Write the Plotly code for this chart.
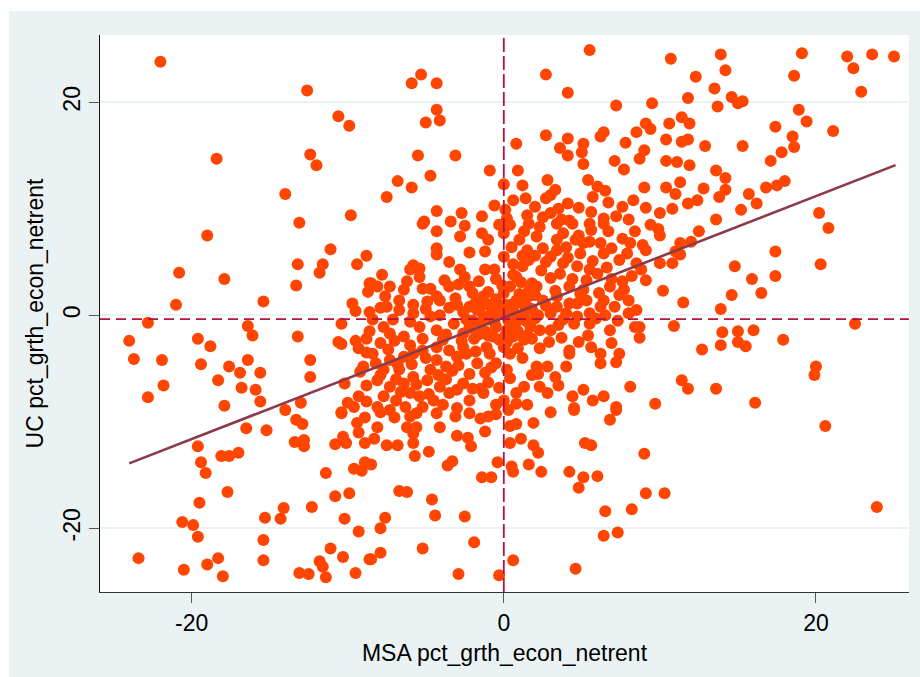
import plotly.graph_objects as go

pts = [
# upper-left
(-22.0,23.8),(-12.6,21.1),(-10.6,18.7),(-9.9,17.8),(-18.4,14.7),(-12.4,15.1),(-12.0,14.1),(-14.0,11.4),(-9.8,9.4),(-13.1,8.7),
# upper-middle
(5.5,24.9),(-5.3,22.6),(-5.9,21.8),(-4.3,21.8),(2.7,22.6),(4.1,20.9),(7.2,19.7),(-4.3,19.3),(-5.0,18.1),(-4.1,18.3),
(2.7,16.9),(4.1,16.6),(6.4,17.2),(6.2,16.8),(8.5,17.2),(0.8,16.1),(5.1,16.1),(3.6,15.7),(5.0,15.3),(4.1,15.0),
(7.8,16.2),(-5.5,15.0),(-3.1,15.0),(5.1,14.2),(7.1,14.5),(7.7,13.7),(8.7,14.7),(-0.9,13.6),(0.9,13.6),(-4.7,13.1),
(-6.8,12.6),(-5.9,12.0),(-7.5,11.1),(0.0,12.3),(1.2,12.2),(2.8,12.7),(5.4,12.7),(3.3,11.8),(3.0,11.3),(2.7,11.0),
(6.0,12.1),(5.7,11.1),(6.5,11.7),(6.7,10.6),(8.3,10.8),(4.1,10.5),(-4.3,9.8),(-2.7,9.6),(-1.4,9.3),(0.1,9.9),
(0.2,9.1),(-5.1,8.8),(2.0,10.2),(1.5,9.4),(3.0,9.6),(3.7,9.0),(4.2,8.9),(6.4,9.1),(7.2,9.3),(5.5,8.6),
# upper-right
(10.7,24.1),(13.9,24.5),(14.2,23.0),(19.1,24.6),(22.0,24.3),(23.6,24.5),(25.0,24.3),(22.4,23.2),(18.6,22.5),(22.9,21.0),
(12.3,22.4),(13.5,21.3),(11.8,20.4),(14.6,20.5),(15.0,19.9),(15.3,20.1),(13.7,19.6),(9.5,19.9),(18.9,19.3),(19.4,18.2),
(21.1,17.3),(17.4,17.7),(18.5,16.8),(18.6,15.8),(17.8,15.3),(17.1,14.5),(15.3,15.9),(12.9,15.9),(11.4,18.6),(10.6,18.0),
(11.9,18.0),(9.1,18.0),(9.4,17.5),(10.4,16.5),(11.4,16.3),(11.8,16.5),(9.0,15.5),(10.4,14.5),(11.1,14.4),(11.9,14.1),
(13.6,13.6),(14.2,12.9),(14.2,11.8),(13.8,11.1),(12.8,11.9),(11.3,12.5),(10.4,12.0),(11.0,11.4),(9.0,12.0),(9.1,10.1),
(10.0,9.6),(10.8,10.0),(11.8,10.5),(12.4,10.8),(13.6,9.0),(15.2,9.9),(15.7,11.4),(16.2,10.5),(16.8,12.0),(17.5,12.2),
(18.0,12.6),(20.2,9.6),
# middle-right
(20.8,8.2),(12.5,7.9),(12.0,6.9),(11.3,6.8),(11.0,6.0),(11.3,5.7),(10.8,4.9),(10.0,4.9),(10.0,7.5),(9.9,8.1),
(9.4,8.5),(8.9,6.6),(9.1,6.1),(8.8,4.3),(9.1,3.3),(10.2,2.3),(11.5,1.2),(17.4,6.0),(17.4,3.7),(20.3,4.8),
(14.8,4.6),(15.9,3.4),(16.5,2.1),(14.6,1.9),(13.9,0.6),(10.9,-1.0),(8.7,-1.1),(8.7,-2.1),(14.0,-1.6),(15.0,-1.5),
(16.0,-1.4),(15.0,-2.5),(13.9,-2.8),(15.5,-2.9),(17.9,-2.3),(12.7,-3.2),(22.5,-0.8),(20.0,-4.8),(19.9,-5.6),(11.4,-6.1),
(11.8,-6.9),(13.6,-6.9),(9.7,-8.3),(16.1,-8.2),
# lower-right
(20.6,-10.4),(9.0,-13.0),(9.1,-16.7),(10.3,-16.7),(23.9,-18.0),
# middle-left
(-19.0,7.5),(-11.1,6.2),(-8.8,5.6),(-20.8,4.0),(-17.9,3.4),(-13.2,4.8),(-11.6,4.8),(-11.8,4.0),(-9.4,4.8),(-13.3,2.8),
(-15.4,1.3),(-21.0,1.0),(-8.6,3.0),(-8.7,2.2),(-9.7,1.1),(-9.5,0.4),(-8.6,0.3),(-22.8,-0.7),(-16.4,-1.0),(-16.1,-1.9),
(-10.4,-0.8),(-13.2,-2.0),(-24.0,-2.4),(-19.6,-2.2),(-18.8,-2.9),(-10.6,-2.5),(-10.4,-2.7),(-9.5,-2.4),(-8.8,-2.2),(-9.3,-3.1),
(-8.8,-3.5),(-23.7,-4.1),(-21.9,-4.2),(-19.4,-4.6),(-16.4,-4.2),(-12.4,-4.2),(-17.6,-4.8),(-16.9,-5.4),(-15.6,-5.4),(-12.4,-5.8),
(-18.3,-6.1),(-21.8,-6.6),(-16.8,-6.8),(-15.9,-7.0),(-9.0,-4.8),(-9.2,-5.3),(-10.2,-6.4),(-8.8,-6.6),(-22.8,-7.7),(-15.6,-8.1),
(-13.0,-8.2),(-17.9,-8.5),(-14.0,-8.9),(-10.0,-8.2),(-9.3,-7.6),(-9.6,-8.6),(-10.4,-9.1),(-8.8,-8.1),
# lower-left
(-16.5,-10.6),(-15.2,-10.8),(-19.6,-12.3),(-18.1,-13.2),(-17.6,-13.2),(-17.0,-12.9),(-19.4,-13.8),(-19.1,-14.8),(-17.7,-16.6),(-19.5,-17.6),
(-20.6,-19.4),(-19.9,-19.7),(-19.6,-20.8),(-23.4,-22.8),(-20.5,-23.9),(-19.0,-23.4),(-18.3,-22.8),(-18.0,-24.5),(-15.3,-19.0),(-15.4,-21.1),
(-15.4,-23.0),(-14.1,-18.1),(-14.3,-19.1),(-12.3,-18.0),(-13.4,-11.9),(-12.8,-12.3),(-12.8,-11.7),(-13.3,-9.8),(-12.9,-10.2),(-11.4,-14.8),
(-10.8,-17.0),(-9.9,-16.7),(-10.2,-19.1),(-9.3,-20.3),(-11.1,-21.9),(-10.3,-22.7),(-11.8,-23.1),(-11.6,-23.6),(-13.1,-24.2),(-12.5,-24.3),
(-11.4,-24.6),(-9.5,-24.2),(-8.6,-22.9),(-10.8,-12.1),(-10.3,-11.4),(-10.1,-12.0),(-10.4,-9.2),(-9.4,-10.1),(-9.3,-11.0),(-8.9,-12.0),
(-9.6,-14.4),(-9.1,-14.6),(-8.9,-13.8),
# lower-middle
(6.8,-9.8),(7.2,-8.9),(3.0,-9.1),(4.5,-8.9),(1.9,-10.1),(0.4,-10.4),(0.8,-10.2),(1.1,-11.6),(0.4,-12.0),(1.9,-12.2),
(2.2,-12.9),(1.6,-14.0),(0.5,-14.2),(0.6,-14.7),(2.4,-14.7),(-0.4,-13.8),(5.2,-12.0),(5.6,-12.2),(4.2,-14.7),(5.1,-15.2),
(6.0,-15.1),(4.8,-16.2),(6.5,-18.4),(8.2,-18.2),(6.4,-20.7),(7.3,-20.4),(4.6,-23.8),(0.6,-23.0),(-0.3,-24.4),(-2.9,-24.3),
(-1.9,-21.3),(-5.2,-21.9),(-7.9,-22.3),(-8.5,-22.9),(-7.9,-20.0),(-7.6,-19.0),(-4.4,-18.8),(-2.5,-18.9),(-4.6,-17.3),(-6.7,-16.5),
(-6.2,-16.6),(-1.4,-15.2),(-0.8,-15.2),(-3.6,-14.1),(-3.3,-13.7),(-4.8,-12.8),(-5.7,-13.2),(-8.5,-14.0),(-5.8,-12.0),(-4.1,-10.5),
(-3.0,-11.3),(-2.3,-11.5),(-2.1,-12.3),(-1.2,-10.9),(-1.0,-9.5),(-8.1,-10.5),(-8.3,-11.6),(-7.5,-12.2),(-6.8,-12.2),(-6.2,-10.5),
(-5.6,-10.5),(-5.8,-11.1),(-7.9,-9.1),(-5.6,-9.2),(-4.3,-9.2),(-3.1,-9.5),(-2.2,-9.2),(-1.5,-9.7),(0.3,-8.9),
# centre
(-5.2,8.6),(-4.3,7.9),(-2.8,7.4),(-1.4,7.7),(-1.0,7.1),(0.0,7.7),(0.4,8.5),(1.3,7.9),(2.3,8.3),(3.4,8.6),
(3.4,7.1),(4.4,8.6),(4.8,7.5),(5.6,8.0),(6.4,8.6),(6.7,7.9),(5.5,6.9),(6.2,6.8),(8.1,6.8),(-4.3,6.3),
(-4.3,5.7),(-2.2,5.9),(-1.2,6.0),(0.5,6.4),(1.5,6.1),(2.5,6.3),(3.0,5.5),(-3.5,5.0),(-5.8,4.7),(-5.4,4.4),
(-6.0,4.3),(-2.8,4.3),(-1.2,4.3),(-0.6,4.3),(0.6,3.8),(1.6,5.2),(3.8,4.9),(4.7,4.6),(5.5,4.3),(6.4,5.8),
(7.4,5.2),(7.9,5.8),(8.5,4.9),(-7.8,3.8),(-8.5,3.0),(-5.2,2.5),(-3.8,3.3),(-2.9,2.9),(-2.2,2.7),(3.0,3.5),
(2.1,2.7),(4.2,2.7),(5.1,2.4),(6.8,2.7),(7.7,2.4),(6.4,1.4),(7.1,0.8),(8.0,0.2),(8.5,0.5),(4.7,-0.1),
(5.5,-0.8),(5.4,-1.9),(6.8,-1.4),(8.4,-1.1),(4.2,-3.6),(6.2,-3.6),(6.2,-4.5),(7.4,-3.6),(7.2,-4.4),(4.2,-3.3),
(2.3,-3.1),(2.1,-4.8),(2.8,-4.8),(2.2,-5.5),(2.3,-6.7),(2.8,-7.3),(5.1,-7.0),(5.7,-8.0),(6.4,-7.6),(7.2,-8.6),
(8.1,-6.7),(4.5,-8.7),(1.3,-6.7),(0.4,-5.9),(0.2,-5.1),(-0.5,-4.5),(0.4,-3.6),(1.2,-4.0),(1.3,-2.3),(2.3,-1.4),
(3.0,-1.4),(0.8,-7.3),(0.0,-8.0),(0.8,-8.3),(-0.5,-8.4),(-1.3,-7.3),(-2.2,-8.0),(-2.6,-6.4),(-2.2,-5.5),(-1.7,-4.5),
(-3.0,-7.0),(-3.5,-7.3),(-4.1,-6.7),(-3.9,-8.4),(-3.0,-8.7),(-5.2,-8.6),(-6.0,-7.3),(-5.4,-7.6),(-6.4,-6.4),(-6.7,-5.1),
(-5.8,-5.8),(-4.7,-5.1),(-4.3,-4.2),(-3.7,-4.8),(-3.0,-3.9),(-2.6,-3.0),(-3.5,-3.3),(-4.3,-3.0),(-5.2,-3.3),(-5.8,-3.6),
(-6.4,-3.9),(-7.3,-4.2),(-7.7,-5.1),(-8.1,-6.1),(-7.3,-6.7),(-7.7,-7.6),(-6.9,-8.0),(-7.3,-8.9),(-8.1,-8.6),(-8.4,-3.6),
(-7.9,-2.6),(-7.3,-1.7),(-7.7,-1.1),(-6.4,-2.0),(-6.7,0.5),(-5.8,0.2),(-4.7,-0.1),(-4.1,0.0),(-3.2,-0.8),(-4.3,-1.4),
(-5.4,-1.1),(-2.6,-1.7),(-4.9,1.3),(-5.8,1.0),(-4.1,1.4),(-3.5,0.7),(-7.9,0.7),(-8.4,-0.4),(-7.1,-0.4),(-4.7,2.5),
(-4.3,1.8),(-3.5,2.7),(-2.0,2.1),(-1.5,0.8),(-2.2,0.8),
(-0.9,-0.4),(0.8,1.4),(0.0,2.1),(0.4,2.7),(0.8,3.6),(0.0,5.5),(1.5,0.8),(1.7,-1.1),(0.6,-2.0),(-0.7,-2.0),
(-1.3,-0.1),(-1.7,0.5),(1.0,-0.4),(-0.5,0.8),(0.2,-1.4),(1.3,0.2),(0.4,0.2),(-0.5,-1.1),(0.0,-3.0),(-1.1,-3.0),
(-0.9,-3.6),(3.4,1.8),(4.2,1.1),(3.4,0.8),(2.5,1.4),(3.0,0.2),(4.0,0.2),(3.8,-0.4),(4.7,1.1),(5.3,1.4),
(6.2,0.8),(5.5,0.2),(-8.1,2.7),(-7.3,2.7),(-6.4,2.4),(-6.7,1.4),(-7.5,0.8),(1.0,7.1),(2.1,7.4),(4.0,6.4),
(4.9,5.8),(5.1,6.8),(3.4,6.1),
(-1.0,1.0),(-0.5,1.5),(0.5,1.0),(1.0,2.0),(-1.2,-1.5),(0.3,-0.5),(-0.2,0.3),(0.9,-1.5),(1.2,1.1),(-0.3,-2.3),
(0.7,-0.9),(-0.8,0.2),(1.8,0.6),(-1.5,-0.8),(0.1,1.0),(-0.6,-0.6),(0.6,0.5),(1.4,-0.5),(-1.0,2.2),(2.0,-0.3),
(-2.0,-0.5),(0.2,-2.5),(1.6,1.8),(-1.8,1.2),
# dense centre, further reads
(-8.6,-1.5),(-8.2,-4.5),(-7.9,-5.6),(-7.4,-3.2),(-7.0,-2.4),(-6.8,-4.6),(-6.9,-6.0),(-6.6,-7.2),(-6.3,-8.6),(-6.0,-2.8),
(-5.9,-4.6),(-5.6,-6.5),(-5.2,-2.2),(-5.0,-4.0),(-4.9,-6.1),(-4.8,-7.4),(-4.5,-8.0),(-4.2,-5.6),(-3.9,-2.3),(-3.7,-6.0),
(-3.3,-5.2),(-2.9,-4.7),(-2.7,-2.4),(-2.4,-3.6),(-2.0,-6.9),(-1.8,-3.4),(-1.2,-5.4),(-1.0,-6.3),(-0.8,-4.9),(-1.5,-6.9),
(-8.9,-9.6),(-7.0,-9.6),(-6.0,-9.5),
(1.8,3.0),(2.4,4.2),(2.7,5.0),(3.3,2.3),(3.6,3.9),(4.1,5.4),(4.4,3.4),(4.9,2.0),(5.3,3.3),(5.7,5.1),
(6.0,3.9),(6.1,2.1),(6.6,4.5),(6.9,3.4),(7.4,1.9),(7.6,3.2),(8.2,3.7),(8.0,1.4),(2.0,1.9),(2.7,0.9),
(3.5,-0.9),(4.5,-0.8),(5.9,-0.3),(7.3,-0.5),(6.5,0.0),(1.2,4.6),(2.0,5.6),(3.8,7.7),(4.6,7.1),(6.9,6.3),
(7.6,7.2),(8.4,7.9),(8.0,9.0),(1.6,8.6),(2.5,9.2),(0.6,10.8),(-0.6,10.3),(1.4,11.0),(3.5,10.0),(4.8,10.1),
(5.6,9.7),(7.6,10.2),(-2.5,8.4),(-3.4,8.8),(-0.3,8.5),(1.2,5.6),(0.6,4.8),(-0.5,3.4),(1.1,3.1),(-1.6,3.2),
(-2.5,3.6),(-3.1,1.6),(-2.6,0.3),(-1.0,-1.9),(-1.9,-2.2),(0.9,-3.1),(1.8,-2.2),(2.9,-2.5),(3.7,-2.1),(4.8,-2.5),
(5.6,-3.0),(6.9,-2.6),(3.3,-5.8),(4.0,-4.8),(3.5,-6.6),(4.4,-7.6),(1.5,-8.4),(1.8,-5.6),(-0.3,-6.8),(-0.5,-9.3),
(-1.6,-1.8),(1.5,-1.9),(-1.3,1.8),(1.6,2.3),(0.1,-1.9),(-0.1,2.8),(-2.2,-1.2),(2.2,0.0),
(-7.6,1.8),(-6.2,3.2),(-5.4,3.6),(-5.0,0.6),(-6.0,-0.6),(-3.7,-1.8),(-3.0,1.0),(-2.4,-0.4),
]
msa_x = [p[0] for p in pts]
uc_y = [p[1] for p in pts]

fit_x = [-24.0, 25.1]
fit_y = [-13.9, 14.1]
ref_x = 0.0
ref_y = -0.35

x_ticks = [-20, 0, 20]
y_ticks = [-20, 0, 20]

FONT = "Liberation Sans, Arial, sans-serif"
BG = "#EAF2F3"
REF = "#B8123F"

fig = go.Figure()
fig.add_trace(go.Scatter(x=msa_x, y=uc_y, mode="markers",
                         marker=dict(color="#FF4500", size=12, line=dict(width=0)),
                         showlegend=False, hoverinfo="skip"))
fig.add_trace(go.Scatter(x=fit_x, y=fit_y, mode="lines",
                         line=dict(color="#8A3A48", width=2.6),
                         showlegend=False, hoverinfo="skip"))

fig.add_shape(type="line", xref="x", yref="paper", x0=ref_x, x1=ref_x, y0=0, y1=1,
              line=dict(color=REF, width=1.8, dash="14px,4px"), layer="above")
fig.add_shape(type="line", xref="paper", yref="y", x0=0, x1=1, y0=ref_y, y1=ref_y,
              line=dict(color=REF, width=1.8, dash="10px,6px"), layer="above")

# white outer border strips (left and top)
fig.add_shape(type="rect", xref="paper", yref="paper", x0=-0.2, x1=(9-100)/809, y0=-0.3, y1=1.2,
              fillcolor="white", line=dict(width=0), layer="below")
fig.add_shape(type="rect", xref="paper", yref="paper", x0=-0.2, x1=1.1, y0=(592-11)/557, y1=1.2,
              fillcolor="white", line=dict(width=0), layer="below")

fig.update_layout(
    width=920, height=677,
    margin=dict(l=100, r=11, t=35, b=85),
    paper_bgcolor=BG, plot_bgcolor="white",
    font=dict(family=FONT, size=23, color="black"),
    showlegend=False,
)
fig.update_xaxes(range=[-25.87, 25.96], tickvals=x_ticks, ticktext=[str(v) for v in x_ticks],
                 showgrid=False, zeroline=False, showline=True, linecolor="#333333", linewidth=1.3,
                 ticks="outside", ticklen=10, tickwidth=1.3, tickcolor="#555555",
                 tickfont=dict(size=23),
                 title=dict(text="MSA pct_grth_econ_netrent", font=dict(size=23), standoff=10))
fig.update_yaxes(range=[-25.98, 26.32], tickvals=y_ticks, ticktext=[str(v) for v in y_ticks],
                 showgrid=True, gridcolor=BG, gridwidth=1.5, zeroline=False,
                 showline=True, linecolor="#111111", linewidth=1.3,
                 ticks="outside", ticklen=10, tickwidth=1.3, tickcolor="#555555",
                 tickangle=-90, tickfont=dict(size=23),
                 title=dict(text="UC pct_grth_econ_netrent", font=dict(size=23), standoff=8))

fig.write_html("out.html")
